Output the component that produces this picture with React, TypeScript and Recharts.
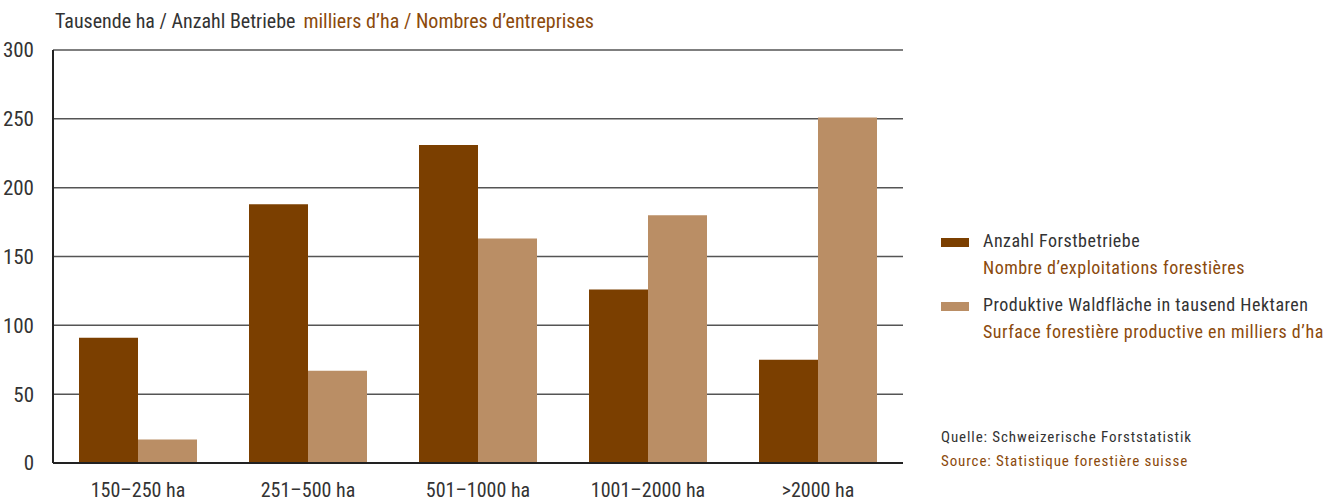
import React from 'react';
import { BarChart, Bar, XAxis, YAxis, CartesianGrid } from 'recharts';

const categories = ['150–250 ha', '251–500 ha', '501–1000 ha', '1001–2000 ha', '>2000 ha'];
const betriebe = [91, 188, 231, 126, 75];
const flaeche = [17, 67, 163, 180, 251];
const yTicks = [0, 50, 100, 150, 200, 250, 300];

const DARK = '#7b3f00';
const LIGHT = '#ba8e65';
const TEXT = '#333333';
const BROWN = '#8b4a0c';
const FONT = "'Liberation Sans Narrow', 'Arial Narrow', 'Roboto Condensed', Roboto, sans-serif";

const data = categories.map((cat, i) => ({ cat, betriebe: betriebe[i], flaeche: flaeche[i] }));

const legendItems = [
  { color: DARK, de: 'Anzahl Forstbetriebe', fr: 'Nombre d’exploitations forestières' },
  { color: LIGHT, de: 'Produktive Waldfläche in tausend Hektaren', fr: 'Surface forestière productive en milliers d’ha' },
];

const LegendBox = () => (
  <div style={{ position: 'absolute', left: 941, top: 230, width: 397, fontFamily: FONT, fontSize: 18, letterSpacing: 0.5 }}>
    {legendItems.map((it) => (
      <div key={it.de} style={{ position: 'relative', height: 64 }}>
        <span style={{ position: 'absolute', left: 0, top: 8, width: 28, height: 9, background: it.color }} />
        <div style={{ position: 'absolute', left: 42, top: 0, color: TEXT, whiteSpace: 'nowrap' }}>{it.de}</div>
        <div style={{ position: 'absolute', left: 42, top: 27, color: BROWN, whiteSpace: 'nowrap' }}>{it.fr}</div>
      </div>
    ))}
  </div>
);

export default function App() {
  return (
    <div style={{ position: 'absolute', left: 0, top: 0, width: 1338, height: 503, background: '#fff', fontFamily: FONT }}>
      <div style={{ position: 'absolute', left: 55, top: 9, fontSize: 20, whiteSpace: 'nowrap' }}>
        <span style={{ color: TEXT }}>Tausende ha / Anzahl Betriebe</span>
        <span style={{ color: BROWN, marginLeft: 8 }}>milliers d’ha / Nombres d’entreprises</span>
      </div>
      <BarChart
        width={1338}
        height={503}
        data={data}
        margin={{ top: 50, right: 435, left: 8, bottom: 10 }}
        barGap={0}
        barCategoryGap={26}
      >
        <CartesianGrid vertical={false} stroke="#555" strokeWidth={1.5} />
        <XAxis
          dataKey="cat"
          height={30}
          tickLine={false}
          axisLine={{ stroke: '#222', strokeWidth: 2 }}
          tickMargin={14}
          tick={{ fill: TEXT, fontSize: 20, fontFamily: FONT }}
          interval={0}
        />
        <YAxis
          width={45}
          domain={[0, 300]}
          ticks={yTicks}
          tickLine={false}
          axisLine={{ stroke: '#222', strokeWidth: 2 }}
          tickMargin={13}
          tick={{ fill: TEXT, fontSize: 21, fontFamily: FONT }}
        />
        <Bar dataKey="betriebe" fill={DARK} isAnimationActive={false} />
        <Bar dataKey="flaeche" fill={LIGHT} isAnimationActive={false} />
      </BarChart>
      <LegendBox />
      <div style={{ position: 'absolute', left: 941, top: 428, fontSize: 15, letterSpacing: 0.9, whiteSpace: 'nowrap' }}>
        <div style={{ color: TEXT, height: 24 }}>Quelle: Schweizerische Forststatistik</div>
        <div style={{ color: BROWN }}>Source: Statistique forestière suisse</div>
      </div>
    </div>
  );
}
